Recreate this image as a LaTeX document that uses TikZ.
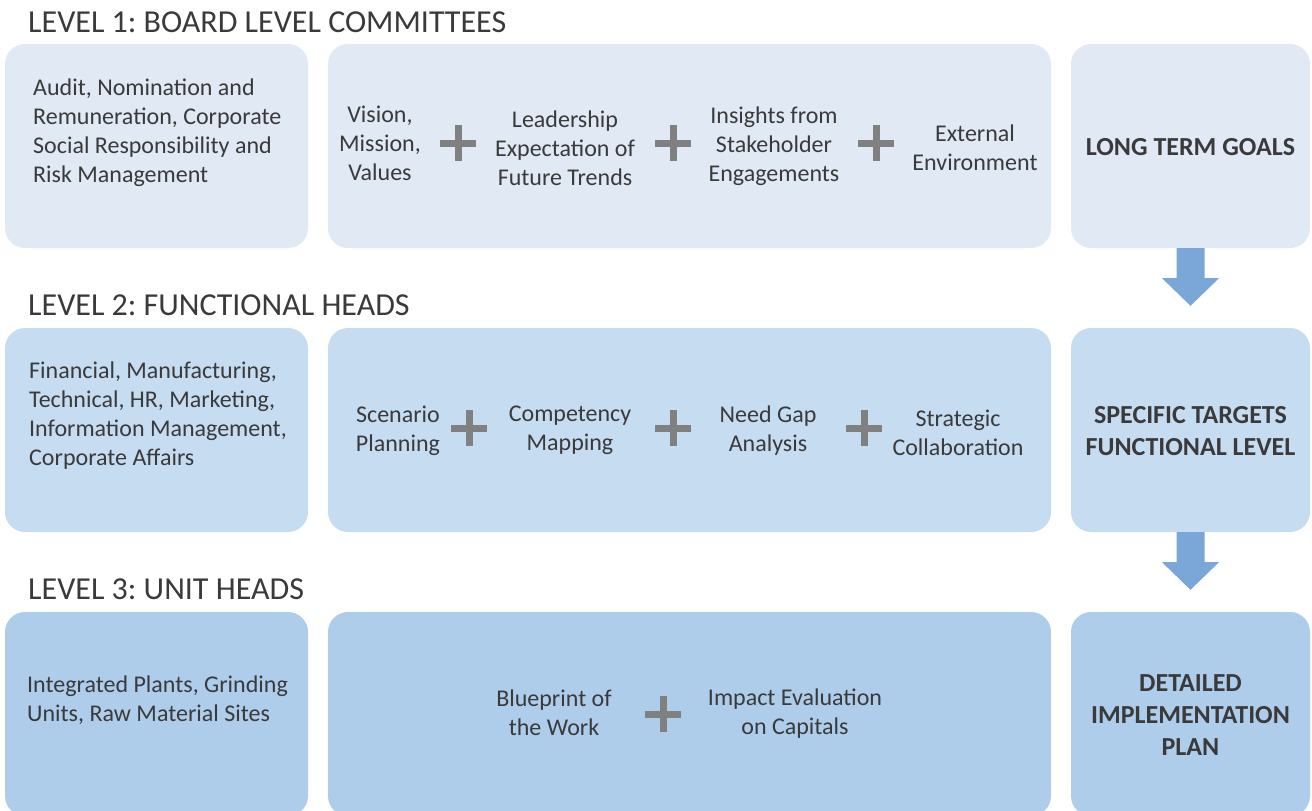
\documentclass[tikz,border=0pt]{standalone}
\usepackage{fontspec}
\setmainfont{Carlito}
\usetikzlibrary{calc}
\frenchspacing
\definecolor{rowA}{RGB}{225,233,245}
\definecolor{rowB}{RGB}{198,221,241}
\definecolor{rowC}{RGB}{174,205,235}
\definecolor{arrowc}{RGB}{123,167,216}
\definecolor{plusc}{RGB}{128,128,128}
\definecolor{txt}{RGB}{58,58,58}
\tikzset{
  box/.style={rounded corners=20pt, inner sep=0pt, draw=none},
  heading/.style={anchor=base west, inner sep=0pt, text=txt, font=\fontsize{32}{38}\selectfont},
  body/.style={align=center, inner sep=0pt, text=txt, font=\fontsize{24}{29}\selectfont},
  lbody/.style={align=left, anchor=west, inner sep=0pt, text=txt, font=\fontsize{24}{29}\selectfont},
  goal/.style={align=center, inner sep=0pt, text=txt, font=\fontsize{26}{32}\bfseries\selectfont},
  plus/.style={minimum size=36pt, inner sep=0pt, path picture={
     \draw[plusc, line width=7pt] (path picture bounding box.north) -- (path picture bounding box.south)
       (path picture bounding box.west) -- (path picture bounding box.east);}},
  downarrow/.style={fill=arrowc, draw=none}
}
\begin{document}
\begin{tikzpicture}[x=1pt,y=-1pt]
\useasboundingbox (0,0) rectangle (1312,811);
\clip (0,0) rectangle (1312,811);
% headings
\node[heading] (h1) at (28,32) {LEVEL 1: BOARD LEVEL COMMITTEES};
\node[heading] (h2) at (28,315) {LEVEL 2: FUNCTIONAL HEADS};
\node[heading] (h3) at (28,599) {LEVEL 3: UNIT HEADS};
% row 1
\fill[box, rowA] (5,44) rectangle (308,248);
\fill[box, rowA] (328,44) rectangle (1051,248);
\fill[box, rowA] (1071,44) rectangle (1310,248);
\node[box, minimum width=239pt, minimum height=204pt] (g1) at (1190.5,146) {};
\node[lbody] (l1) at (33,132.5) {Audit, Nomination and\\Remuneration, Corporate\\Social Responsibility and\\Risk Management};
\node[body] (a1) at (380,143) {Vision,\\Mission,\\Values};
\node[plus] (p11) at (458,143) {};
\node[body] (a2) at (565,148) {Leadership\\Expectation of\\Future Trends};
\node[plus] (p12) at (673,143) {};
\node[body] (a3) at (774,146.5) {Insights from\\Stakeholder\\Engagements};
\node[plus] (p13) at (876,143) {};
\node[body] (a4) at (975,147.5) {External\\Environment};
\node[goal] (t1) at (1190.5,147) {LONG TERM GOALS};
% row 2
\fill[box, rowB] (5,328) rectangle (308,532);
\fill[box, rowB] (328,328) rectangle (1051,532);
\fill[box, rowB] (1071,328) rectangle (1310,532);
\node[box, minimum width=239pt, minimum height=204pt] (g2) at (1190.5,430) {};
\node[lbody] (l2) at (29,416) {Financial, Manufacturing,\\Technical, HR, Marketing,\\Information Management,\\Corporate Affairs};
\node[body] (b1) at (398,430.5) {Scenario\\Planning};
\node[plus] (p21) at (469,428) {};
\node[body] (b2) at (570,430.5) {Competency\\Mapping};
\node[plus] (p22) at (673,428) {};
\node[body] (b3) at (768,430.5) {Need Gap\\Analysis};
\node[plus] (p23) at (864,428) {};
\node[body] (b4) at (958,433) {Strategic\\Collaboration};
\node[goal] (t2) at (1190.5,431) {SPECIFIC TARGETS\\FUNCTIONAL LEVEL};
% row 3
\fill[box, rowC] (5,612) rectangle (308,816);
\fill[box, rowC] (328,612) rectangle (1051,816);
\fill[box, rowC] (1071,612) rectangle (1310,816);
\node[box, minimum width=239pt, minimum height=204pt] (g3) at (1190.5,714) {};
\node[lbody] (l3) at (27,700) {Integrated Plants, Grinding\\Units, Raw Material Sites};
\node[body] (c1) at (554,713) {Blueprint of\\the Work};
\node[plus] (p31) at (663,714) {};
\node[body] (c2) at (795,714) {Impact Evaluation\\on Capitals};
\node[goal] (t3) at (1190.5,715.5) {DETAILED\\IMPLEMENTATION\\PLAN};
% arrows
\fill[downarrow] ($(g1.south)+(-14,0)$) -- ($(g1.south)+(14,0)$) -- ($(g1.south)+(14,30)$) -- ($(g1.south)+(28.5,30)$)
  -- ($(g2.north)+(0,-22)$) -- ($(g1.south)+(-28.5,30)$) -- ($(g1.south)+(-14,30)$) -- cycle;
\fill[downarrow] ($(g2.south)+(-14,0)$) -- ($(g2.south)+(14,0)$) -- ($(g2.south)+(14,30)$) -- ($(g2.south)+(28.5,30)$)
  -- ($(g3.north)+(0,-22)$) -- ($(g2.south)+(-28.5,30)$) -- ($(g2.south)+(-14,30)$) -- cycle;
\end{tikzpicture}
\end{document}
